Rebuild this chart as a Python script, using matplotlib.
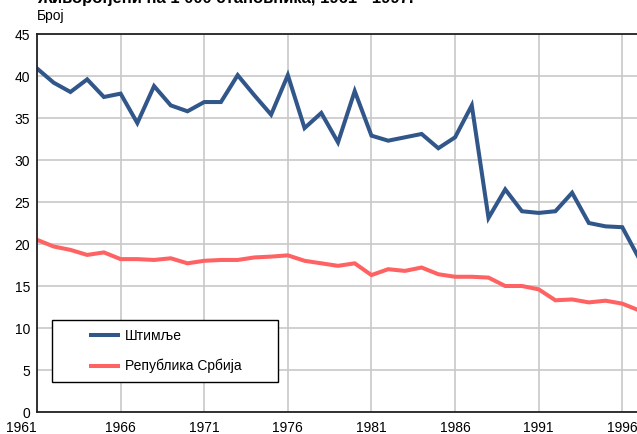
import matplotlib
matplotlib.use("Agg")
import matplotlib.pyplot as plt
from matplotlib.patches import Rectangle

plt.rcParams['font.family'] = ['Liberation Sans', 'DejaVu Sans']

years = list(range(1961, 1998))

# Живорођени на 1 000 становника
shtimlje = [40.9, 39.2, 38.1, 39.6, 37.5, 37.9, 34.4, 38.8, 36.5, 35.8,
            36.9, 36.9, 40.1, 37.7, 35.4, 40.1, 33.8, 35.6, 32.1, 38.2,
            32.9, 32.3, 32.7, 33.1, 31.4, 32.7, 36.5, 23.1, 26.5, 23.9,
            23.7, 23.9, 26.1, 22.5, 22.1, 22.0, 18.3]
srbija = [20.5, 19.7, 19.3, 18.7, 19.0, 18.2, 18.2, 18.1, 18.3, 17.7,
          18.0, 18.1, 18.1, 18.4, 18.5, 18.65, 18.0, 17.7, 17.4, 17.7,
          16.3, 17.0, 16.8, 17.2, 16.4, 16.1, 16.1, 16.0, 15.0, 15.0,
          14.6, 13.3, 13.4, 13.05, 13.25, 12.9, 12.1]

xticks = [1961, 1966, 1971, 1976, 1981, 1986, 1991, 1996]
yticks = [0, 5, 10, 15, 20, 25, 30, 35, 40, 45]

W, H = 637, 434
fig = plt.figure(figsize=(W / 100, H / 100), dpi=100)
ax = fig.add_axes([37 / W, 1 - 412 / H, (639 - 37) / W, (412 - 34) / H])

ax.plot(years, shtimlje, color='#31568a', lw=2.9, label='Штимље', solid_joinstyle='miter')
ax.plot(years, srbija, color='#ff6262', lw=2.9, label='Република Србија', solid_joinstyle='miter')

ax.set_xlim(1961, 1997)
ax.set_ylim(0, 45)
ax.set_xticks(xticks)
ax.set_yticks(yticks)
ax.grid(True, color='#c8c8c8', lw=1.2)
ax.set_axisbelow(True)
ax.tick_params(length=0, labelsize=10)
ax.tick_params(axis='x', pad=6.5)
ax.tick_params(axis='y', pad=5)
ax.get_xticklabels()[0].set_horizontalalignment('right')
for s in ['left', 'bottom', 'top']:
    ax.spines[s].set_color('#222222')
    ax.spines[s].set_linewidth(1.3)
ax.spines['right'].set_visible(False)

# legend box (drawn separately so the padding matches)
aw, ah = 639 - 37, 412 - 34
ax.add_patch(Rectangle(((52 - 37) / aw, (412 - 382) / ah), 226 / aw, 62 / ah,
                       transform=ax.transAxes, facecolor='white', edgecolor='black',
                       lw=1.0, zorder=5))
leg = ax.legend(loc='upper left', bbox_to_anchor=((91 - 37) / aw, (412 - 329) / ah),
                frameon=False, fontsize=10, handlelength=1.95, labelspacing=1.15,
                borderpad=0, handletextpad=0.5, borderaxespad=0)
leg.set_zorder(6)

fig.text(37 / W, 1 - 3.5 / H, 'Живорођени на 1 000 становника, 1961 - 1997.',
         fontsize=12, fontweight='bold', va='baseline', ha='left')
fig.text(37 / W, 1 - 20 / H, 'Број', fontsize=10, va='baseline', ha='left')

fig.savefig('out.png', dpi=100)
